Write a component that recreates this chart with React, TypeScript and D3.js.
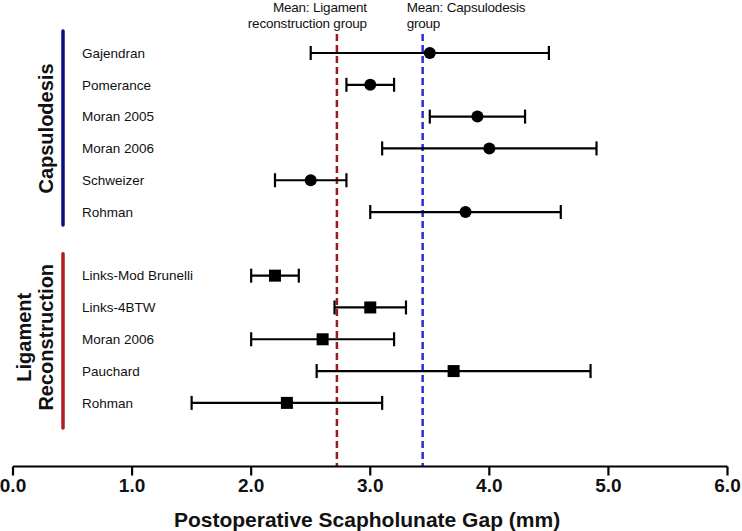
import React from "react";
import * as d3 from "d3";

const capsStudies = ["Gajendran", "Pomerance", "Moran 2005", "Moran 2006", "Schweizer", "Rohman"];
const capsMean = [3.5, 3.0, 3.9, 4.0, 2.5, 3.8];
const capsLow = [2.5, 2.8, 3.5, 3.1, 2.2, 3.0];
const capsHigh = [4.5, 3.2, 4.3, 4.9, 2.8, 4.6];

const ligStudies = ["Links-Mod Brunelli", "Links-4BTW", "Moran 2006", "Pauchard", "Rohman"];
const ligMean = [2.2, 3.0, 2.6, 3.7, 2.3];
const ligLow = [2.0, 2.7, 2.0, 2.55, 1.5];
const ligHigh = [2.4, 3.3, 3.2, 4.85, 3.1];

const meanLig = 2.72;
const meanCaps = 3.44;

const xTicks = [0, 1, 2, 3, 4, 5, 6];
const FONT = "'Liberation Sans', Arial, Helvetica, sans-serif";

export default function App() {
  const W = 742, H = 531;
  const x = d3.scaleLinear().domain([0, 6]).range([13, 727.5]);
  const y = d3.scaleLinear().domain([0, 13]).range([53, 466.5]);
  const axisY = y(13);

  const rows = [
    ...capsStudies.map((name, i) => ({ name, mean: capsMean[i], lo: capsLow[i], hi: capsHigh[i], idx: i, shape: "circle" })),
    ...ligStudies.map((name, i) => ({ name, mean: ligMean[i], lo: ligLow[i], hi: ligHigh[i], idx: i + 7, shape: "square" })),
  ];

  return (
    <svg width={W} height={H} style={{ position: "absolute", left: 0, top: 0, background: "#fff" }} fontFamily={FONT}>
      <line x1={x(meanLig)} x2={x(meanLig)} y1={34} y2={axisY} stroke="#9b1c20" strokeWidth={2.5} strokeDasharray="7,4" />
      <line x1={x(meanCaps)} x2={x(meanCaps)} y1={34} y2={axisY} stroke="#2b2bd9" strokeWidth={2.5} strokeDasharray="7,4" />
      <text x={x(meanLig) + 30} y={12} textAnchor="end" fontSize={13.5} letterSpacing={-0.2} fill="#111">Mean: Ligament</text>
      <text x={x(meanLig) + 30} y={28} textAnchor="end" fontSize={13.5} letterSpacing={-0.2} fill="#111">reconstruction group</text>
      <text x={x(meanCaps) - 16} y={12} fontSize={13.5} letterSpacing={-0.2} fill="#111">Mean: Capsulodesis</text>
      <text x={x(meanCaps) - 16} y={28} fontSize={13.5} letterSpacing={-0.2} fill="#111">group</text>

      <line x1={63} x2={63} y1={y(0) - 22} y2={y(5) + 13} stroke="#0d0d80" strokeWidth={3.5} strokeLinecap="round" />
      <line x1={63} x2={63} y1={y(7) - 22} y2={y(11) + 25} stroke="#b01c1f" strokeWidth={3.5} strokeLinecap="round" />
      <text transform={`translate(53,${(y(0) + y(5)) / 2 - 4}) rotate(-90)`} textAnchor="middle" fontSize={20} fontWeight="bold" fill="#111">Capsulodesis</text>
      <text transform={`translate(31,${y(9) - 2}) rotate(-90)`} textAnchor="middle" fontSize={20} fontWeight="bold" fill="#111">Ligament</text>
      <text transform={`translate(53,${y(9) - 2}) rotate(-90)`} textAnchor="middle" fontSize={20} fontWeight="bold" fill="#111">Reconstruction</text>

      {rows.map((r) => {
        const yy = y(r.idx);
        return (
          <g key={r.name + r.idx}>
            <text x={82} y={yy} dy="0.35em" fontSize={13.5} fill="#111">{r.name}</text>
            <line x1={x(r.lo)} x2={x(r.hi)} y1={yy} y2={yy} stroke="#000" strokeWidth={2.2} />
            <line x1={x(r.lo)} x2={x(r.lo)} y1={yy - 7} y2={yy + 7} stroke="#000" strokeWidth={2.2} />
            <line x1={x(r.hi)} x2={x(r.hi)} y1={yy - 7} y2={yy + 7} stroke="#000" strokeWidth={2.2} />
            {r.shape === "circle" ? (
              <circle cx={x(r.mean)} cy={yy} r={6} fill="#000" />
            ) : (
              <rect x={x(r.mean) - 6} y={yy - 6} width={12} height={12} fill="#000" />
            )}
          </g>
        );
      })}

      <line x1={x(0)} x2={x(6)} y1={axisY} y2={axisY} stroke="#000" strokeWidth={2.2} />
      {xTicks.map((t) => (
        <g key={t}>
          <line x1={x(t)} x2={x(t)} y1={axisY} y2={axisY + 9} stroke="#000" strokeWidth={2.2} />
          <text x={x(t)} y={492} textAnchor="middle" fontSize={19} fontWeight="bold" fill="#111">{t.toFixed(1)}</text>
        </g>
      ))}
      <text x={367} y={527} textAnchor="middle" fontSize={21} fontWeight="bold" fill="#111">Postoperative Scapholunate Gap (mm)</text>
    </svg>
  );
}
